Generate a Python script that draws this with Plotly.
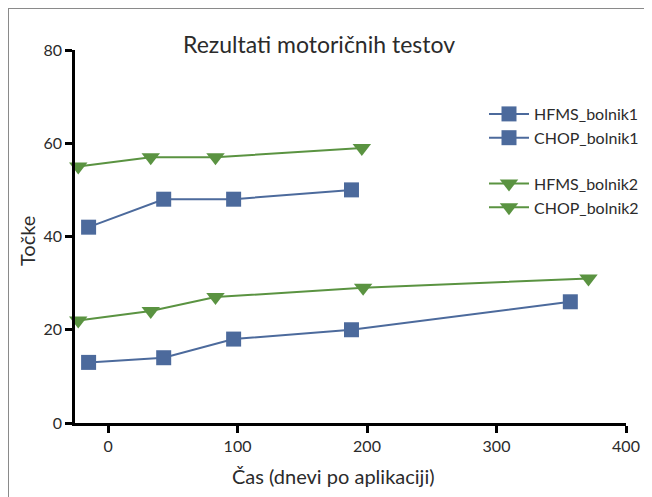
import plotly.graph_objects as go

# Data
hfms1_x = [-15, 43, 97, 188, 357]
hfms1_y = [13, 14, 18, 20, 26]
chop1_x = [-15, 43, 97, 188]
chop1_y = [42, 48, 48, 50]
hfms2_x = [-23, 33, 83, 197, 371]
hfms2_y = [22, 24, 27, 29, 31]
chop2_x = [-23, 33, 83, 196]
chop2_y = [55, 57, 57, 59]

x_ticks = [0, 100, 200, 300, 400]
y_ticks = [0, 20, 40, 60, 80]

BLUE = "#4C6A9C"
GREEN = "#5A9341"
FONT = "Lato"
TXT = "#2b2b2b"

W, H = 652, 497
OFF = 8  # page body margin
ML, MR, MT, MB = 75 - OFF, W - (626 - OFF), 50 - OFF, H - (423 - OFF)

fig = go.Figure()

def add(x, y, name, color, symbol, group):
    fig.add_trace(go.Scatter(
        x=x, y=y, name=name, mode="lines+markers", legendgroup=group,
        line=dict(color=color, width=2),
        marker=dict(color=color, symbol=symbol, size=15 if symbol == "square" else 16),
        cliponaxis=False,
    ))

add(hfms1_x, hfms1_y, "HFMS_bolnik1", BLUE, "square", "g1")
add(chop1_x, chop1_y, "CHOP_bolnik1", BLUE, "square", "g1")
add(hfms2_x, hfms2_y, "HFMS_bolnik2", GREEN, "triangle-down", "g2")
add(chop2_x, chop2_y, "CHOP_bolnik2", GREEN, "triangle-down", "g2")

pw = W - ML - MR
ph = H - MT - MB

def px(xp):
    return (xp - OFF - ML) / pw

def py(yp):
    return (H - MB - (yp - OFF)) / ph

fig.update_layout(
    width=W, height=H,
    margin=dict(l=ML, r=MR, t=MT, b=MB, autoexpand=False),
    paper_bgcolor="white", plot_bgcolor="white",
    font=dict(family=FONT, size=16, color=TXT),
    title=dict(text="Rezultati motoričnih testov", x=(319 - OFF) / W, xanchor="center",
               y=1 - (45 - OFF) / H, yanchor="middle",
               font=dict(family=FONT, size=23, color=TXT)),
    xaxis=dict(range=[-25.5, 400], tickvals=x_ticks, showgrid=False, zeroline=False,
               showline=True, linecolor="black", linewidth=2.5,
               ticks="outside", ticklen=7, tickwidth=2.5, tickcolor="black",
               tickfont=dict(size=16, color=TXT), automargin=False),
    yaxis=dict(range=[0, 80], tickvals=y_ticks, showgrid=False, zeroline=False,
               showline=True, linecolor="black", linewidth=2.5,
               ticks="outside", ticklen=7, tickwidth=2.5, tickcolor="black",
               tickfont=dict(size=16, color=TXT), automargin=False),
    legend=dict(x=px(484), y=py(97), xanchor="left", yanchor="top",
                traceorder="grouped", tracegroupgap=22,
                font=dict(size=16, color=TXT), bgcolor="rgba(0,0,0,0)",
                itemwidth=40),
    showlegend=True,
)

# Axis titles as annotations (positioned as in the reference)
fig.add_annotation(text="Čas (dnevi po aplikaciji)", xref="paper", yref="paper",
                   x=px(333), y=py(476), xanchor="center", yanchor="middle",
                   showarrow=False, font=dict(size=20, color=TXT))
fig.add_annotation(text="Točke", xref="paper", yref="paper",
                   x=px(27), y=py(241), xanchor="center", yanchor="middle",
                   textangle=-90, showarrow=False, font=dict(size=20, color=TXT))

# Gray frame lines (top and left edges)
fig.add_shape(type="line", xref="paper", yref="paper",
              x0=px(8), x1=px(W + 20), y0=py(8), y1=py(8),
              line=dict(color="#8a8a8a", width=2))
fig.add_shape(type="line", xref="paper", yref="paper",
              x0=px(8), x1=px(8), y0=py(8), y1=py(H + 20),
              line=dict(color="#8a8a8a", width=2))

fig.write_html("out.html")
